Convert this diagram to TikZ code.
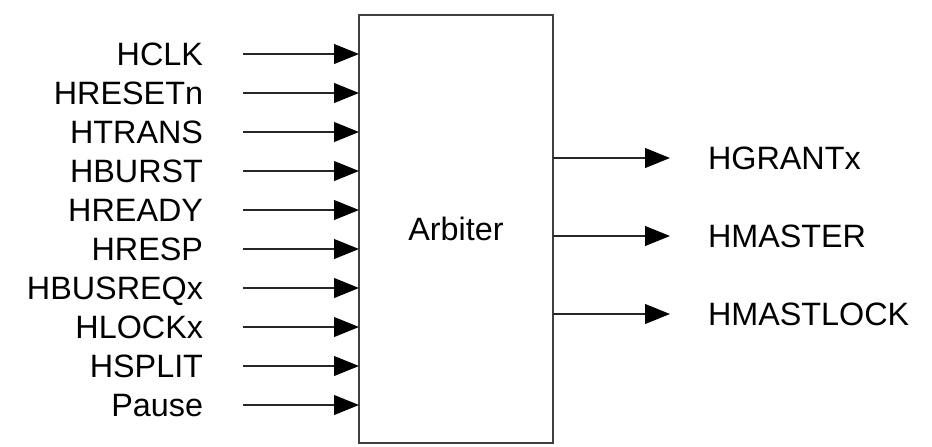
\documentclass[tikz,border=0pt]{standalone}
\usepackage{fontspec}
\setmainfont{Liberation Sans}
\usepackage{tikz}
\usetikzlibrary{arrows.meta,positioning}
\newcommand{\sigf}{\fontsize{23}{26}\selectfont}

\begin{document}
\begin{tikzpicture}[x=0.25mm, y=-0.25mm, every node/.style={inner sep=0pt, outer sep=0pt, font=\sigf},
  sig/.style={draw=black!85, line width=1.2pt, -{Triangle[length=17.7pt, width=14pt, fill=black, color=black]}},
  inlbl/.style={anchor=east, text height=16.5pt, text depth=0pt},
  outlbl/.style={anchor=west, text height=16.5pt, text depth=0pt}]
\useasboundingbox (0,0) rectangle (932,446);
% ---- arbiter block
\node[draw=black!75, line width=1.4pt, minimum width=48.5mm, minimum height=107mm] (arb) at (456,229) {Arbiter};
% ---- input pins
\coordinate (i1) at (243,54);
\coordinate (i2) at (243,93);
\coordinate (i3) at (243,132);
\coordinate (i4) at (243,171);
\coordinate (i5) at (243,210);
\coordinate (i6) at (243,249);
\coordinate (i7) at (243,288);
\coordinate (i8) at (243,327);
\coordinate (i9) at (243,366);
\coordinate (i10) at (243,405);
\node[inlbl, left=10mm of i1] (l1) {HCLK};
\node[inlbl, left=10mm of i2] (l2) {HRESETn};
\node[inlbl, left=10mm of i3] (l3) {HTRANS};
\node[inlbl, left=10mm of i4] (l4) {HBURST};
\node[inlbl, left=10mm of i5] (l5) {HREADY};
\node[inlbl, left=10mm of i6] (l6) {HRESP};
\node[inlbl, left=10mm of i7] (l7) {HBUSREQx};
\node[inlbl, left=10mm of i8] (l8) {HLOCKx};
\node[inlbl, left=10mm of i9] (l9) {HSPLIT};
\node[inlbl, left=10mm of i10] (l10) {Pause};
\draw[sig] (i1) -- (i1 -| arb.west);
\draw[sig] (i2) -- (i2 -| arb.west);
\draw[sig] (i3) -- (i3 -| arb.west);
\draw[sig] (i4) -- (i4 -| arb.west);
\draw[sig] (i5) -- (i5 -| arb.west);
\draw[sig] (i6) -- (i6 -| arb.west);
\draw[sig] (i7) -- (i7 -| arb.west);
\draw[sig] (i8) -- (i8 -| arb.west);
\draw[sig] (i9) -- (i9 -| arb.west);
\draw[sig] (i10) -- (i10 -| arb.west);
% ---- output pins
\coordinate (o1) at (670,158);
\coordinate (o2) at (670,236);
\coordinate (o3) at (670,314);
\draw[sig] (o1 -| arb.east) -- (o1);
\draw[sig] (o2 -| arb.east) -- (o2);
\draw[sig] (o3 -| arb.east) -- (o3);
\node[outlbl, right=9.5mm of o1] (g1) {HGRANTx};
\node[outlbl, right=9.5mm of o2] (g2) {HMASTER};
\node[outlbl, right=9.5mm of o3] (g3) {HMASTLOCK};
\end{tikzpicture}
\end{document}
